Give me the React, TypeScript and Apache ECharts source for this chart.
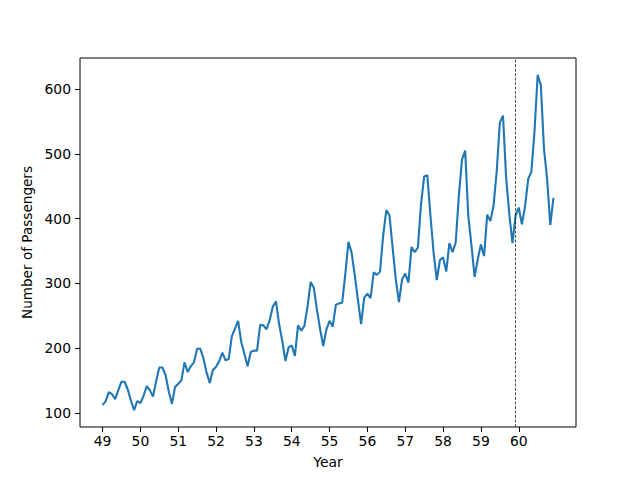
import { useEffect, useRef } from "react";
import * as echarts from "echarts";

// Monthly airline passengers (thousands), Jan 1949 – Dec 1960
const years = [49, 50, 51, 52, 53, 54, 55, 56, 57, 58, 59, 60];
const passengers = [
  [112, 118, 132, 129, 121, 135, 148, 148, 136, 119, 104, 118],
  [115, 126, 141, 135, 125, 149, 170, 170, 158, 133, 114, 140],
  [145, 150, 178, 163, 172, 178, 199, 199, 184, 162, 146, 166],
  [171, 180, 193, 181, 183, 218, 230, 242, 209, 191, 172, 194],
  [196, 196, 236, 235, 229, 243, 264, 272, 237, 211, 180, 201],
  [204, 188, 235, 227, 234, 264, 302, 293, 259, 229, 203, 229],
  [242, 233, 267, 269, 270, 315, 364, 347, 312, 274, 237, 278],
  [284, 277, 317, 313, 318, 374, 413, 405, 355, 306, 271, 306],
  [315, 301, 356, 348, 355, 422, 465, 467, 404, 347, 305, 336],
  [340, 318, 362, 348, 363, 435, 491, 505, 404, 359, 310, 337],
  [360, 342, 406, 396, 420, 472, 548, 559, 463, 407, 362, 405],
  [417, 391, 419, 461, 472, 535, 622, 606, 508, 461, 390, 432],
];
const xTicks = [49, 50, 51, 52, 53, 54, 55, 56, 57, 58, 59, 60];
const yTicks = [100, 200, 300, 400, 500, 600];
// split marker: December 1959
const splitAt = 59 + 11 / 12;

const font = "DejaVu Sans";

export default function App() {
  const ref = useRef<HTMLDivElement>(null);

  useEffect(() => {
    if (!ref.current) return;
    const chart = echarts.init(ref.current, undefined, { renderer: "svg" });

    const data: [number, number][] = [];
    years.forEach((y, i) => {
      passengers[i].forEach((v, m) => data.push([y + m / 12, v]));
    });

    const tickStyle = {
      show: true,
      inside: false,
      length: 5,
      lineStyle: { color: "#000", width: 1 },
    };

    chart.setOption({
      animation: false,
      grid: {
        left: 80,
        right: 64,
        top: 58,
        bottom: 53,
        show: true,
        borderColor: "#000",
        borderWidth: 1,
        backgroundColor: "transparent",
      },
      xAxis: {
        type: "value",
        min: 48.404,
        max: 61.513,
        name: "Year",
        nameLocation: "middle",
        nameGap: 28,
        nameTextStyle: { fontFamily: font, fontSize: 13.9, color: "#000" },
        axisLine: { show: false },
        splitLine: { show: false },
        axisTick: { ...tickStyle, customValues: xTicks },
        axisLabel: {
          customValues: xTicks,
          margin: 7,
          fontFamily: font,
          fontSize: 13.9,
          color: "#000",
        },
      },
      yAxis: {
        type: "value",
        min: 78.1,
        max: 647.9,
        name: "Number of Passengers",
        nameLocation: "middle",
        nameGap: 39,
        nameTextStyle: { fontFamily: font, fontSize: 13.6, color: "#000" },
        axisLine: { show: false },
        splitLine: { show: false },
        axisTick: { ...tickStyle, customValues: yTicks },
        axisLabel: {
          customValues: yTicks,
          margin: 9,
          fontFamily: font,
          fontSize: 13.9,
          color: "#000",
        },
      },
      series: [
        {
          type: "line",
          data,
          showSymbol: false,
          lineStyle: { color: "#1f77b4", width: 2.1 },
          itemStyle: { color: "#1f77b4" },
          markLine: {
            silent: true,
            symbol: "none",
            label: { show: false },
            lineStyle: { color: "#000", width: 0.7, type: [3, 1.5] },
            data: [{ xAxis: splitAt }],
          },
        },
      ],
    });

    return () => chart.dispose();
  }, []);

  return (
    <div
      ref={ref}
      style={{
        position: "fixed",
        left: 0,
        top: 0,
        width: 640,
        height: 480,
        background: "#fff",
      }}
    />
  );
}
